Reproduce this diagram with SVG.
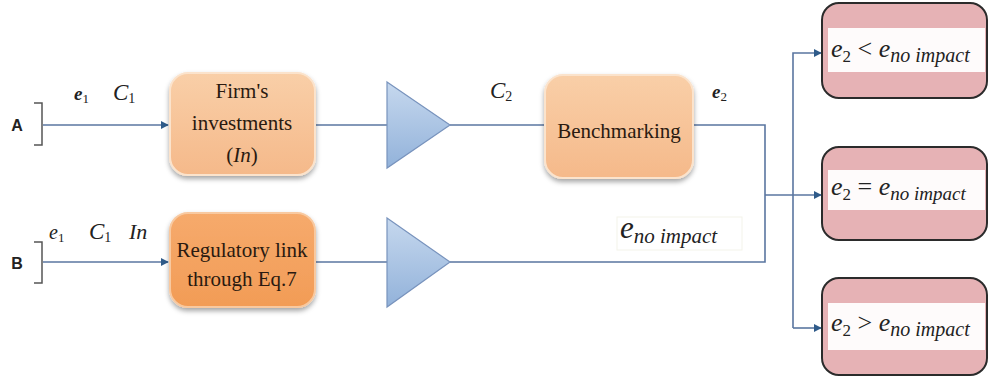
<svg xmlns="http://www.w3.org/2000/svg" width="990" height="383" viewBox="0 0 990 383">
<style>
.box{font-family:"Liberation Serif",serif;font-size:21px;fill:#2a1a10;text-anchor:middle}
.math{font-family:"Liberation Serif",serif;font-style:italic;fill:#222}
.lbl{font-family:"Liberation Sans",sans-serif;font-size:16px;font-weight:bold;fill:#222;text-anchor:middle}
.ln{fill:none;stroke:#5a76a0;stroke-width:1.6}
.br{fill:none;stroke:#555;stroke-width:1.5}
.tri{fill:url(#gTri);stroke:#7893bd;stroke-width:1.2}
.pink{fill:#e6b2b5;stroke:#2b2b2b;stroke-width:2}
.band{fill:#fff;opacity:0.95}
</style>
<defs>
<linearGradient id="gTri" x1="0" y1="0" x2="0" y2="1">
<stop offset="0" stop-color="#c6d8ee"/><stop offset="1" stop-color="#92b2da"/>
</linearGradient>
<linearGradient id="gOr1" x1="0" y1="0" x2="0" y2="1">
<stop offset="0" stop-color="#f9cfa8"/><stop offset="1" stop-color="#f5b98a"/>
</linearGradient>
<linearGradient id="gOr2" x1="0" y1="0" x2="0" y2="1">
<stop offset="0" stop-color="#f6aa6c"/><stop offset="1" stop-color="#f29c56"/>
</linearGradient>
<filter id="sh" x="-10%" y="-10%" width="120%" height="130%">
<feDropShadow dx="0" dy="3" stdDeviation="2.5" flood-color="#000" flood-opacity="0.35"/>
</filter>
<marker id="arr" viewBox="0 0 10 10" refX="9" refY="5" markerWidth="8" markerHeight="8" markerUnits="userSpaceOnUse" orient="auto">
<path d="M0,0 L10,5 L0,10 z" fill="#2f5b8a"/>
</marker>
</defs>

<g id="connectors">
<path class="ln" d="M43,125 H168" marker-end="url(#arr)"/>
<path class="ln" d="M43,262 H168" marker-end="url(#arr)"/>
<path class="ln" d="M315,125 H387"/>
<path class="ln" d="M450,125 H545"/>
<path class="ln" d="M693,125 H765 V262 H450"/>
<path class="ln" d="M315,262 H387"/>
<path class="ln" d="M765,195 H821" marker-end="url(#arr)"/>
<path class="ln" d="M793,328 V53 H821" marker-end="url(#arr)"/>
<path class="ln" d="M793,328 H821" marker-end="url(#arr)"/>
</g>

<g id="inputA">
<path class="br" d="M34,103 H42 V145 H34"/>
<text class="lbl" x="17" y="131">A</text>
<text class="math" x="74" y="100" font-size="19" font-weight="bold">e<tspan font-size="13" dy="3" font-style="normal" font-weight="normal">1</tspan></text>
<text class="math" x="113" y="100" font-size="23">C<tspan font-size="14" dy="3" font-style="normal">1</tspan></text>
</g>

<g id="inputB">
<path class="br" d="M34,242 H42 V283 H34"/>
<text class="lbl" x="17" y="269">B</text>
<text class="math" x="49" y="239" font-size="20">e<tspan font-size="13" dy="3" font-style="normal">1</tspan></text>
<text class="math" x="89" y="239" font-size="23">C<tspan font-size="14" dy="3" font-style="normal">1</tspan></text>
<text class="math" x="129" y="239" font-size="22">In</text>
</g>

<g id="firm">
<rect x="170" y="73" width="145" height="102" rx="18" fill="url(#gOr1)" stroke="#fbe3cc" stroke-width="2" filter="url(#sh)"/>
<text class="box" x="242" y="98">Firm's</text>
<text class="box" x="242" y="130">investments</text>
<text class="box" x="242" y="162">(<tspan font-style="italic">In</tspan>)</text>
</g>

<g id="regulatory">
<rect x="170" y="213" width="145" height="94" rx="18" fill="url(#gOr2)" stroke="#f8c9a0" stroke-width="2" filter="url(#sh)"/>
<text class="box" x="242" y="257">Regulatory link</text>
<text class="box" x="242" y="286">through Eq.7</text>
</g>

<g id="amp1">
<polygon class="tri" points="387,82 450,125 387,168"/>
</g>
<g id="amp2">
<polygon class="tri" points="387,218 450,262 387,307"/>
</g>

<g id="c2label">
<text class="math" x="490" y="98" font-size="23">C<tspan font-size="14" dy="3" font-style="normal">2</tspan></text>
</g>

<g id="benchmarking">
<rect x="545" y="75" width="148" height="103" rx="18" fill="url(#gOr1)" stroke="#fbe3cc" stroke-width="2" filter="url(#sh)"/>
<text class="box" x="619" y="138">Benchmarking</text>
</g>

<g id="e2label">
<text class="math" x="712" y="98" font-size="19" font-weight="bold">e<tspan font-size="13" dy="3" font-style="normal" font-weight="normal">2</tspan></text>
</g>

<g id="enoimpact">
<rect x="617" y="217" width="125" height="33" fill="#fff" stroke="#f3f3ea" stroke-width="1"/>
<text class="math" x="620" y="238" font-size="31">e<tspan font-size="21" dy="5">no impact</tspan></text>
</g>

<g id="less">
<rect class="pink" x="822" y="3" width="165" height="95" rx="17"/>
<rect class="band" x="828" y="28" width="157" height="44"/>
<text class="math" x="831" y="57" font-size="26">e<tspan font-size="17" dy="5" font-style="normal">2</tspan><tspan dy="-5" font-style="normal"> &lt; </tspan>e<tspan font-size="20" dy="5">no impact</tspan></text>
</g>

<g id="equal">
<rect class="pink" x="822" y="147" width="165" height="93" rx="17"/>
<rect class="band" x="828" y="170" width="157" height="40"/>
<text class="math" x="831" y="195" font-size="26">e<tspan font-size="17" dy="5" font-style="normal">2</tspan><tspan dy="-5" font-style="normal"> = </tspan>e<tspan font-size="19" dy="5">no impact</tspan></text>
</g>

<g id="greater">
<rect class="pink" x="822" y="278" width="165" height="97" rx="17"/>
<rect class="band" x="828" y="303" width="157" height="47"/>
<text class="math" x="831" y="331" font-size="26">e<tspan font-size="17" dy="5" font-style="normal">2</tspan><tspan dy="-5" font-style="normal"> &gt; </tspan>e<tspan font-size="20" dy="5">no impact</tspan></text>
</g>
</svg>
